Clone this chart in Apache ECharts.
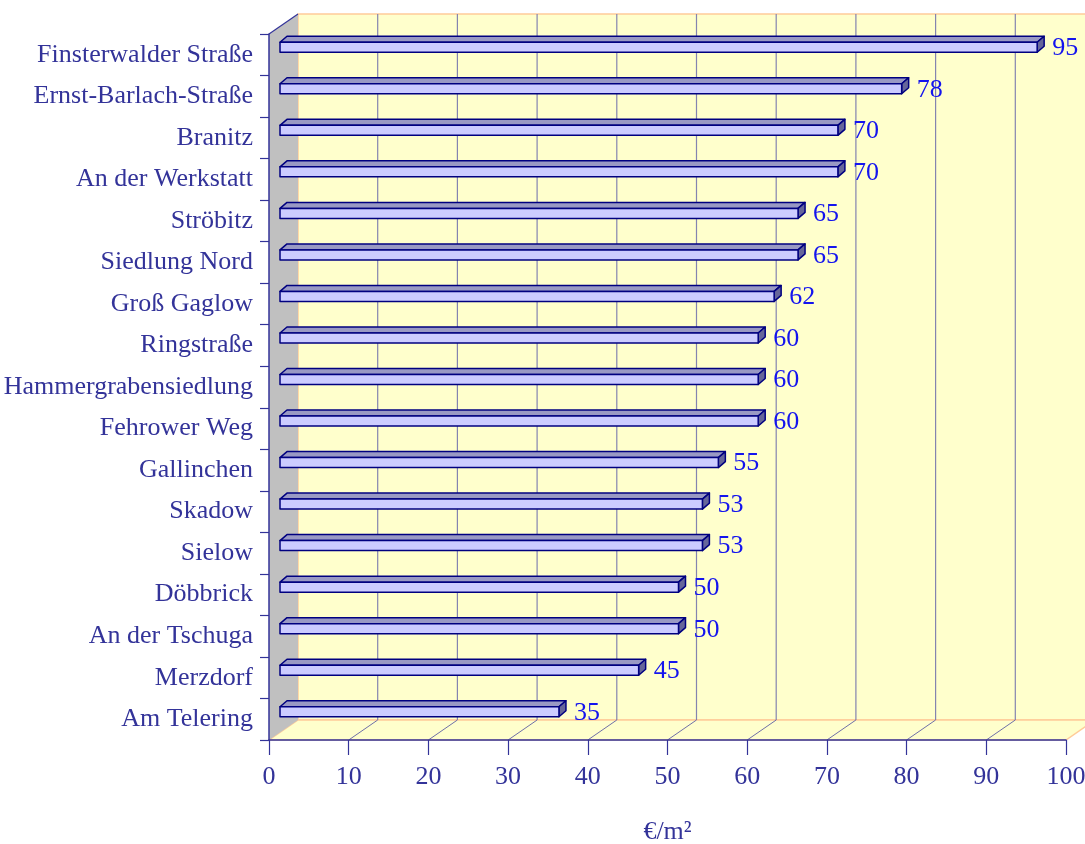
<!DOCTYPE html>
<html>
<head>
<meta charset="utf-8">
<title>Bodenrichtwerte Cottbus</title>
<script src="https://cdn.jsdelivr.net/npm/echarts@6/dist/echarts.min.js"></script>
<style>
  html, body { margin: 0; padding: 0; background: #ffffff; }
  #chart { width: 1085px; height: 844px; }
</style>
</head>
<body>
<div id="chart"></div>
<script>
// Stadtteile, von oben nach unten
const districts = [
  'Finsterwalder Straße', 'Ernst-Barlach-Straße', 'Branitz', 'An der Werkstatt',
  'Ströbitz', 'Siedlung Nord', 'Groß Gaglow', 'Ringstraße', 'Hammergrabensiedlung',
  'Fehrower Weg', 'Gallinchen', 'Skadow', 'Sielow', 'Döbbrick', 'An der Tschuga',
  'Merzdorf', 'Am Telering'
];
// Preis in €/m²
const prices = [95, 78, 70, 70, 65, 65, 62, 60, 60, 60, 55, 53, 53, 50, 50, 45, 35];
// Werte der Rasterlinien
const gridValues = [10, 20, 30, 40, 50, 60, 70, 80, 90, 100];
const axisMax = 100;

const FONT = '"Liberation Serif", "Times New Roman", serif';
const NAVY = '#333399';
// perspective of the 3D box: back wall offset
const DEPTH = { x: 29, y: -20 };
// bar placement inside the box
const BAR_OFF = { x: 11, y: -7.5 };
const BAR_H = 10;
const BAR_D = { x: 7, y: -6 };

function boxFrame(api) {
  const band = api.size([0, 1])[1];
  const a = api.coord([0, 0]);
  const b = api.coord([axisMax, districts.length - 1]);
  return { x0: a[0], x1: b[0], top: a[1] - band / 2, bottom: b[1] + band / 2 };
}

function renderWalls(params, api) {
  const f = boxFrame(api);
  const dx = DEPTH.x, dy = DEPTH.y;
  const children = [];
  // back wall
  children.push({
    type: 'rect',
    shape: { x: f.x0 + dx, y: f.top + dy, width: f.x1 - f.x0, height: f.bottom - f.top },
    style: { fill: '#FFFFCC', stroke: '#FFCC99', lineWidth: 1.5 }
  });
  // floor
  children.push({
    type: 'polygon',
    shape: { points: [[f.x0, f.bottom], [f.x1, f.bottom], [f.x1 + dx, f.bottom + dy], [f.x0 + dx, f.bottom + dy]] },
    style: { fill: '#FFFFCC', stroke: '#FFCC99', lineWidth: 1.5 }
  });
  // left side wall
  children.push({
    type: 'polygon',
    shape: { points: [[f.x0, f.top], [f.x0 + dx, f.top + dy], [f.x0 + dx, f.bottom + dy], [f.x0, f.bottom]] },
    style: { fill: '#C0C0C0' }
  });
  children.push({
    type: 'line',
    shape: { x1: f.x0, y1: f.top, x2: f.x0 + dx, y2: f.top + dy },
    style: { stroke: NAVY, lineWidth: 1.2 }
  });
  // grid lines on the back wall and the floor
  gridValues.forEach(function (v) {
    const x = api.coord([v, 0])[0];
    if (v < axisMax) {
      children.push({
        type: 'line',
        shape: { x1: x + dx, y1: f.top + dy, x2: x + dx, y2: f.bottom + dy },
        style: { stroke: '#8484B0', lineWidth: 1.2 }
      });
      children.push({
        type: 'line',
        shape: { x1: x, y1: f.bottom, x2: x + dx, y2: f.bottom + dy },
        style: { stroke: '#6F6FA8', lineWidth: 1 }
      });
    }
  });
  return { type: 'group', children: children };
}

function renderBar(params, api) {
  const val = api.value(0);
  const idx = api.value(1);
  const p0 = api.coord([0, idx]);
  const p1 = api.coord([val, idx]);
  const xl = p0[0] + BAR_OFF.x;
  const xr = p1[0] + BAR_OFF.x;
  const yc = p0[1] + BAR_OFF.y;
  const yt = yc - BAR_H / 2;
  const yb = yc + BAR_H / 2;
  const dx = BAR_D.x, dy = BAR_D.y;
  const stroke = { stroke: '#000080', lineWidth: 1.5, lineJoin: 'round' };
  return {
    type: 'group',
    children: [
      {
        type: 'polygon',
        shape: { points: [[xl, yt], [xl + dx, yt + dy], [xr + dx, yt + dy], [xr, yt]] },
        style: Object.assign({ fill: '#9999C4' }, stroke)
      },
      {
        type: 'polygon',
        shape: { points: [[xr, yt], [xr + dx, yt + dy], [xr + dx, yb + dy], [xr, yb]] },
        style: Object.assign({ fill: '#66669A' }, stroke)
      },
      {
        type: 'rect',
        shape: { x: xl, y: yt, width: xr - xl, height: BAR_H },
        style: Object.assign({ fill: '#CCCCFF' }, stroke)
      },
      {
        type: 'text',
        x: xr + dx + 8,
        y: yc + 1,
        style: {
          text: String(val),
          fill: '#1414EE',
          font: '26px ' + FONT,
          verticalAlign: 'middle',
          align: 'left'
        }
      }
    ]
  };
}

const chart = echarts.init(document.getElementById('chart'), null, { renderer: 'canvas' });
chart.setOption({
  backgroundColor: '#ffffff',
  animation: false,
  grid: { left: 269, right: 19, top: 34, bottom: 104, containLabel: false, outerBoundsMode: 'none' },
  xAxis: {
    type: 'value',
    min: 0,
    max: axisMax,
    interval: 10,
    z: 10,
    name: '€/m²',
    nameLocation: 'middle',
    nameGap: 79,
    nameTextStyle: { color: NAVY, fontFamily: FONT, fontSize: 26 },
    axisLine: { show: true, lineStyle: { color: NAVY, width: 1.5 } },
    axisTick: { show: true, length: 15, lineStyle: { color: NAVY, width: 1.2 } },
    axisLabel: { color: NAVY, fontFamily: FONT, fontSize: 26, margin: 24 },
    splitLine: { show: false }
  },
  yAxis: {
    type: 'category',
    data: districts,
    inverse: true,
    z: 10,
    axisLine: { show: true, lineStyle: { color: NAVY, width: 1.5 } },
    axisTick: { show: true, length: 9, lineStyle: { color: NAVY, width: 1.2 } },
    axisLabel: { color: NAVY, fontFamily: FONT, fontSize: 26, margin: 16 },
    splitLine: { show: false }
  },
  series: [
    {
      type: 'custom',
      z: 1,
      silent: true,
      renderItem: renderWalls,
      data: [[0, 0]],
      encode: { x: 0, y: 1 }
    },
    {
      type: 'custom',
      z: 3,
      renderItem: renderBar,
      data: prices.map(function (v, i) { return [v, i]; }),
      encode: { x: 0, y: 1 }
    }
  ]
});
</script>
</body>
</html>
